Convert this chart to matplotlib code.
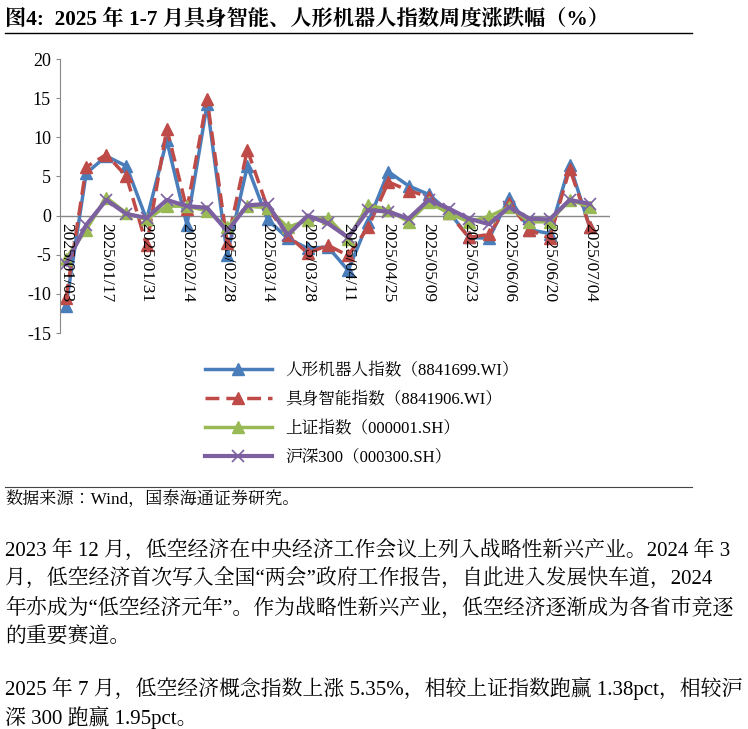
import matplotlib.pyplot as plt
from matplotlib import font_manager

cjk = [f.name for f in font_manager.fontManager.ttflist if 'CJK' in f.name]
cjk_name = 'Noto Sans CJK SC' if 'Noto Sans CJK SC' in cjk else (cjk[0] if cjk else 'DejaVu Sans')
plt.rcParams['font.family'] = ['Liberation Serif', cjk_name]
plt.rcParams['axes.unicode_minus'] = False

dates = ['2025/01/03', '2025/01/10', '2025/01/17', '2025/01/24', '2025/01/31', '2025/02/07',
         '2025/02/14', '2025/02/21', '2025/02/28', '2025/03/07', '2025/03/14', '2025/03/21',
         '2025/03/28', '2025/04/03', '2025/04/11', '2025/04/18', '2025/04/25', '2025/04/30',
         '2025/05/09', '2025/05/16', '2025/05/23', '2025/05/30', '2025/06/06', '2025/06/13',
         '2025/06/20', '2025/06/27', '2025/07/04']
humanoid = [-11.5, 5.4, 7.6, 6.3, -0.5, 9.6, -1.2, 14.2, -5.0, 6.3, -0.5, -2.9, -4.2, -4.0,
            -7.0, -0.8, 5.6, 3.8, 2.7, 0.5, -2.8, -2.9, 2.3, -1.8, -2.3, 6.5, -1.5]
embodied = [-10.5, 6.2, 7.8, 5.0, -3.8, 11.1, 0.8, 14.9, -3.5, 8.4, 1.0, -2.5, -4.8, -3.8,
            -5.1, -1.5, 4.3, 3.2, 2.4, 0.3, -2.8, -2.4, 1.6, -1.8, -2.9, 6.0, -1.5]
sse = [-5.5, -1.8, 2.3, 0.3, -0.5, 1.2, 1.2, 0.6, -1.5, 1.2, 1.0, -1.5, -0.6, -0.3,
       -3.0, 1.4, 0.7, -0.8, 1.7, 0.3, -0.8, -0.1, 1.1, -0.8, -0.8, 2.0, 1.1]
hs300 = [-6.2, -1.2, 2.0, 0.2, -0.3, 2.0, 1.2, 1.0, -2.0, 1.3, 1.5, -2.5, 0.0, -1.0,
         -2.8, 0.7, 0.5, -0.4, 2.0, 0.9, -0.4, -1.1, 1.1, -0.4, -0.5, 2.0, 1.5]
labels = ['人形机器人指数（8841699.WI）', '具身智能指数（8841906.WI）',
          '上证指数（000001.SH）', '沪深300（000300.SH）']

fig = plt.figure(figsize=(7.48, 7.29), dpi=100)
W, H = 748, 729

# title and rules
fig.text(5 / W, 1 - 19 / H, '图4:  2025 年 1-7 月具身智能、人形机器人指数周度涨跌幅（%）',
         fontsize=15.3, fontweight='bold', va='center', ha='left')
fig.add_artist(plt.Line2D([5 / W, 692 / W], [1 - 33 / H] * 2, color='black', lw=1))

ax = fig.add_axes([60 / W, 1 - 333 / H, 550 / W, 274 / H])
x = list(range(len(dates)))
ax.plot(x, humanoid, color='#4a7ebb', lw=2.5, marker='^', ms=8, label=labels[0])
ax.plot(x, embodied, color='#be4b48', lw=2.5, ls=(0, (4, 2)), marker='^', ms=8, label=labels[1])
ax.plot(x, sse, color='#98b954', lw=2.5, marker='^', ms=8, label=labels[2])
ax.plot(x, hs300, color='#7d60a0', lw=3, marker='x', ms=8, mew=1.2, label=labels[3])
ax.axhline(0, color='#888888', lw=1, zorder=0)

ax.set_ylim(-15, 20)
ax.set_xlim(-0.3, 27)
ax.set_yticks(range(-15, 21, 5))
ax.tick_params(axis='y', labelsize=13, length=3, color='#888888')
ax.set_xticks([])
for s in ['top', 'right', 'bottom']:
    ax.spines[s].set_visible(False)
ax.spines['left'].set_color('#888888')
for i in range(0, len(dates), 2):
    ax.annotate(dates[i], (i, 0), xytext=(0, -5), textcoords='offset points',
                rotation=270, ha='center', va='top', fontsize=12.5)

fig.legend(loc='upper left', bbox_to_anchor=(190 / W, 1 - 348 / H), frameon=False,
           fontsize=12, handlelength=4, labelspacing=0.75)

fig.add_artist(plt.Line2D([5 / W, 692 / W], [1 - 487 / H] * 2, color='#444444', lw=0.8))
fig.text(5 / W, 1 - 500 / H, '数据来源：Wind，国泰海通证券研究。', fontsize=12.3, va='center')

body = ['2023 年 12 月，低空经济在中央经济工作会议上列入战略性新兴产业。2024 年 3',
        '月，低空经济首次写入全国“两会”政府工作报告，自此进入发展快车道，2024',
        '年亦成为“低空经济元年”。作为战略性新兴产业，低空经济逐渐成为各省市竞逐',
        '的重要赛道。']
for k, line in enumerate(body):
    fig.text(5 / W, 1 - (550 + 29 * k) / H, line, fontsize=15, va='center')
body2 = ['2025 年 7 月，低空经济概念指数上涨 5.35%，相较上证指数跑赢 1.38pct，相较沪',
         '深 300 跑赢 1.95pct。']
for k, line in enumerate(body2):
    fig.text(5 / W, 1 - (688 + 29 * k) / H, line, fontsize=15, va='center')

fig.savefig('out.png', dpi=100)
